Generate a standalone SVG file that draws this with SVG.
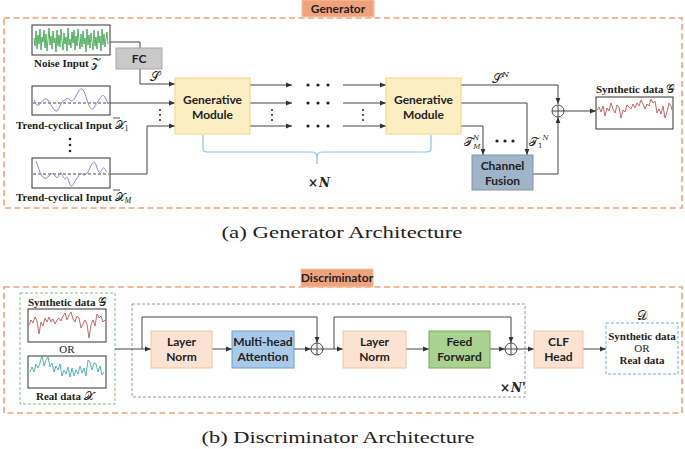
<svg xmlns="http://www.w3.org/2000/svg" width="685" height="449" viewBox="0 0 685 449">
<defs>
<marker id="ah" viewBox="0 0 10 10" refX="10" refY="5" markerWidth="6" markerHeight="6" orient="auto" markerUnits="userSpaceOnUse"><path d="M0,1 L10,5 L0,9 z" fill="#333"/></marker>
<style>
.outer{fill:none;stroke:#f2a27a;stroke-width:1.6;stroke-dasharray:6 3.5}
.tag{fill:#efa27c;stroke:#f6c4a6;stroke-width:1}
.tagt{font-family:Lato,"Open Sans",sans-serif;font-weight:bold;font-size:12px;fill:#222;text-anchor:middle}
.bx{font-family:Lato,"Open Sans",sans-serif;font-weight:bold;font-size:12px;fill:#222;text-anchor:middle}
.ser{font-family:"Liberation Serif","DejaVu Serif",serif;font-weight:bold;font-size:11px;fill:#222}
.math{font-family:"DejaVu Serif","DejaVu Sans",serif;font-weight:normal;font-style:normal}
.cap{font-family:"Liberation Serif","DejaVu Serif",serif;font-size:17px;fill:#222;text-anchor:middle}
.ln{fill:none;stroke:#444;stroke-width:1}
.arr{fill:none;stroke:#444;stroke-width:1;marker-end:url(#ah)}
.wave{fill:#fff;stroke:#333;stroke-width:1}
.gen{fill:#fbeec2;stroke:#f6d47c;stroke-width:1}
.dot{fill:#222}
.plus{fill:#fff;stroke:#444;stroke-width:1}
.peach{fill:#fbe2d2;stroke:#f4c3a2;stroke-width:1}
</style>
</defs>

<!-- ===== Generator ===== -->
<rect class="outer" x="4" y="18" width="678" height="190"/>
<g id="generator-label"><rect class="tag" x="302" y="0" width="72" height="17"/><text class="tagt" x="338" y="13">Generator</text></g>

<g id="noise-input">
<rect class="wave" x="32" y="25" width="78" height="30"/>
<polyline fill="none" stroke="#2e9e40" stroke-width="0.8" points="34,38 35,46 36,31 37,49 38,35 39,44 40,29 41,50 42,37 43,42 44,30 45,48 46,34 47,51 48,40 49,28 50,45 51,36 52,49 53,31 54,43 55,38 56,52 57,30 58,46 59,35 60,47 61,29 62,41 63,50 64,33 65,44 66,37 67,51 68,28 69,45 70,39 71,48 72,32 73,43 74,30 75,50 76,36 77,46 78,29 79,41 80,49 81,34 82,47 83,31 84,44 85,38 86,52 87,29 88,45 89,35 90,48 91,33 92,42 93,50 94,30 95,46 96,37 97,49 98,31 99,43 100,36 101,51 102,29 103,45 104,34 105,47 106,39 107,32 108,44"/>
<text class="ser" x="34" y="67">Noise Input <tspan class="math" font-size="12">𝒵</tspan></text>
</g>

<g id="trend-input-1">
<rect class="wave" x="32" y="86" width="78" height="29"/>
<line x1="33" y1="103" x2="109" y2="103" stroke="#333" stroke-width="0.9" stroke-dasharray="3 2"/>
<path fill="none" stroke="#8a80d8" stroke-width="1" d="M34,100 C36,104 37,107 40,104 C43,100 45,97 48,100 C51,104 53,110 56,111 C59,112 60,103 63,101 C66,99 68,97 70,100 C72,103 74,99 76,96 C78,92 80,88 82,89 C85,91 86,98 88,103 C90,108 92,111 94,108 C96,104 97,103 99,100 C101,96 103,94 105,97 C107,100 107,103 108,104"/>
<text class="ser" x="16" y="129">Trend-cyclical Input <tspan class="math" font-size="12">𝒳</tspan><tspan font-size="8" font-weight="normal" dy="2">1</tspan></text>
<line x1="113" y1="118" x2="120" y2="118" stroke="#222" stroke-width="0.8"/>
</g>

<g id="vdots-left"><circle class="dot" cx="70" cy="139" r="1.3"/><circle class="dot" cx="70" cy="145" r="1.3"/><circle class="dot" cx="70" cy="151" r="1.3"/></g>

<g id="trend-input-M">
<rect class="wave" x="32" y="158" width="78" height="30"/>
<line x1="33" y1="174" x2="109" y2="174" stroke="#333" stroke-width="0.9" stroke-dasharray="3 2"/>
<path fill="none" stroke="#8a80d8" stroke-width="1" d="M36,161 C38,165 39,172 42,176 C45,180 47,178 50,175 C52,172 54,174 56,177 C58,180 59,172 61,173 C63,175 64,181 66,178 C68,175 69,184 71,186 C73,187 75,180 77,178 C79,176 80,172 82,174 C84,176 86,175 88,172 C90,168 92,162 94,162 C96,162 97,170 99,172 C101,174 102,167 104,168 C106,169 106,172 107,171"/>
<text class="ser" x="16" y="201">Trend-cyclical Input <tspan class="math" font-size="12">𝒳</tspan><tspan font-size="8" font-weight="normal" font-style="italic" dy="2">M</tspan></text>
<line x1="113" y1="190" x2="120" y2="190" stroke="#222" stroke-width="0.8"/>
</g>

<g id="connectors-gen">
<polyline class="arr" points="110,42 140,42 140,84 175,84"/>
<line class="arr" x1="110" y1="103" x2="175" y2="103"/>
<polyline class="arr" points="110,174 147,174 147,126 175,126"/>
<line class="arr" x1="250" y1="85" x2="292" y2="85"/>
<line class="arr" x1="250" y1="103" x2="292" y2="103"/>
<line class="arr" x1="250" y1="126" x2="292" y2="126"/>
<line class="arr" x1="343" y1="85" x2="386" y2="85"/>
<line class="arr" x1="343" y1="103" x2="386" y2="103"/>
<line class="arr" x1="343" y1="126" x2="386" y2="126"/>
<polyline class="arr" points="461,85 558,85 558,104"/>
<polyline class="arr" points="461,103 527,103 527,155"/>
<polyline class="arr" points="461,126 483,126 483,155"/>
<polyline class="arr" points="533,174 558,174 558,117"/>
<line class="arr" x1="564" y1="111" x2="596" y2="111"/>
<path fill="none" stroke="#8fc0e4" stroke-width="1.2" d="M203,135 L203,148 Q203,152 207,152 L312,152 Q317,152 317,158 L317,164 L317,158 Q317,152 322,152 L427,152 Q431,152 431,148 L431,135"/>
</g>

<g id="fc"><rect x="116" y="48" width="46" height="21" fill="#c9c9c9" stroke="#a8a8a8" stroke-width="1"/><text class="bx" x="139" y="63">FC</text></g>
<text class="math" x="150" y="81" font-size="13" fill="#222">𝒮</text>

<g id="gen-module-1"><rect class="gen" x="175" y="78" width="75" height="56"/><text class="bx" x="212.5" y="104">Generative</text><text class="bx" x="212.5" y="119">Module</text></g>
<g id="gen-module-2"><rect class="gen" x="386" y="78" width="75" height="56"/><text class="bx" x="423.5" y="104">Generative</text><text class="bx" x="423.5" y="119">Module</text></g>

<g id="hdots">
<circle class="dot" cx="308" cy="85" r="1.6"/><circle class="dot" cx="318" cy="85" r="1.6"/><circle class="dot" cx="328" cy="85" r="1.6"/>
<circle class="dot" cx="308" cy="103" r="1.6"/><circle class="dot" cx="318" cy="103" r="1.6"/><circle class="dot" cx="328" cy="103" r="1.6"/>
<circle class="dot" cx="308" cy="126" r="1.6"/><circle class="dot" cx="318" cy="126" r="1.6"/><circle class="dot" cx="328" cy="126" r="1.6"/>
<circle class="dot" cx="160" cy="110" r="1"/><circle class="dot" cx="160" cy="115" r="1"/><circle class="dot" cx="160" cy="120" r="1"/>
<circle class="dot" cx="272" cy="110" r="1"/><circle class="dot" cx="272" cy="115" r="1"/><circle class="dot" cx="272" cy="120" r="1"/>
<circle class="dot" cx="363" cy="110" r="1"/><circle class="dot" cx="363" cy="115" r="1"/><circle class="dot" cx="363" cy="120" r="1"/>
<circle class="dot" cx="497" cy="141" r="1.6"/><circle class="dot" cx="505" cy="141" r="1.6"/><circle class="dot" cx="513" cy="141" r="1.6"/>
</g>
<text x="308" y="187" font-family="'DejaVu Serif',serif" font-size="12" font-weight="bold" font-style="italic" fill="#222">×<tspan dx="1">N</tspan></text>

<text class="math" x="492" y="83" font-size="13" fill="#222">𝒮<tspan font-size="8" font-style="italic" dy="-6">N</tspan></text>
<text class="math" x="464" y="146" font-size="12" fill="#222">𝒯<tspan font-size="7" font-style="italic" dy="-6">N</tspan><tspan font-size="7" font-style="italic" dx="-6" dy="9">M</tspan></text>
<text class="math" x="529" y="146" font-size="12" fill="#222">𝒯<tspan font-size="7" dy="2">1</tspan><tspan font-size="7" font-style="italic" dy="-8">N</tspan></text>

<g id="channel-fusion"><rect x="472" y="155" width="61" height="35" fill="#9fb3c9" stroke="#8096ae" stroke-width="1"/><text class="bx" x="502.5" y="170">Channel</text><text class="bx" x="502.5" y="185">Fusion</text></g>

<g id="plus-gen"><circle class="plus" cx="558" cy="111" r="6"/><path d="M552,111 H564 M558,105 V117" stroke="#444" stroke-width="1"/></g>

<g id="synthetic-out">
<text class="ser" x="596" y="93">Synthetic data <tspan class="math" font-size="12">𝒢</tspan></text>
<rect class="wave" x="596" y="97" width="77" height="32"/>
<polyline fill="none" stroke="#c0565a" stroke-width="0.9" points="597,110 599,107 601,112 603,106 605,116 607,108 609,111 611,103 613,109 615,113 617,105 619,107 621,118 623,110 625,112 627,105 629,107 631,109 633,104 635,108 637,103 639,106 641,100 643,104 645,109 647,104 649,106 651,99 653,103 655,101 657,113 659,109 661,114 663,106 665,118 667,112 669,103 671,106 672,110"/>
</g>

<text class="cap" x="342" y="238" textLength="241" lengthAdjust="spacingAndGlyphs">(a) Generator Architecture</text>

<!-- ===== Discriminator ===== -->
<rect class="outer" x="4" y="287" width="678" height="126"/>
<g id="discriminator-label"><rect class="tag" x="301" y="269" width="72" height="18"/><text class="tagt" x="337" y="282">Discriminator</text></g>

<g id="input-data">
<rect x="20" y="293" width="95" height="111" fill="none" stroke="#80c27e" stroke-width="1" stroke-dasharray="3 2"/>
<text class="ser" x="28" y="306">Synthetic data <tspan class="math" font-size="12">𝒢</tspan></text>
<rect class="wave" x="28" y="309" width="78" height="33"/>
<polyline fill="none" stroke="#c0565a" stroke-width="0.9" points="29,325 31,320 33,323 35,317 37,321 39,334 41,322 43,326 45,318 47,322 49,317 51,322 53,319 55,324 57,320 59,318 61,321 63,316 65,313 67,320 69,315 71,312 73,319 75,322 77,316 79,318 81,328 83,324 85,320 87,324 89,338 91,325 93,320 95,326 97,314 99,318 101,316 103,322 105,320"/>
<text x="67" y="353" font-family="'Liberation Serif',serif" font-size="11" fill="#222" text-anchor="middle">OR</text>
<rect class="wave" x="28" y="356" width="78" height="32"/>
<polyline fill="none" stroke="#3fb0ad" stroke-width="0.9" points="30,372 32,367 34,372 36,364 38,368 40,363 42,355 44,366 46,360 48,357 50,367 52,363 54,372 56,366 58,370 60,364 62,376 64,370 66,374 68,367 70,377 72,368 74,376 76,370 78,374 80,366 82,373 84,368 86,376 88,360 90,362 92,370 94,363 96,364 98,372 100,366 102,375 104,372"/>
<text class="ser" x="36" y="400">Real data <tspan class="math" font-size="12">𝒳</tspan></text>
</g>

<rect x="132" y="304" width="393" height="93" fill="none" stroke="#9a9a9a" stroke-width="1" stroke-dasharray="3 2"/>

<g id="connectors-disc">
<line class="arr" x1="115" y1="349" x2="151" y2="349"/>
<polyline class="arr" points="142,349 142,317 317,317 317,343"/>
<line class="arr" x1="212" y1="349" x2="232" y2="349"/>
<line class="arr" x1="294" y1="349" x2="311" y2="349"/>
<line class="arr" x1="323" y1="349" x2="343" y2="349"/>
<polyline class="arr" points="334,349 334,317 511,317 511,343"/>
<line class="arr" x1="406" y1="349" x2="429" y2="349"/>
<line class="arr" x1="490" y1="349" x2="505" y2="349"/>
<line class="arr" x1="517" y1="349" x2="534" y2="349"/>
<line class="arr" x1="583" y1="349" x2="606" y2="349"/>
</g>

<g id="layer-norm-1"><rect class="peach" x="151" y="331" width="61" height="37"/><text class="bx" x="181.5" y="346">Layer</text><text class="bx" x="181.5" y="361">Norm</text></g>
<g id="multi-head-attention"><rect x="232" y="331" width="62" height="37" fill="#a9c9e9" stroke="#6b9fd0" stroke-width="1"/><text class="bx" x="263" y="346">Multi-head</text><text class="bx" x="263" y="361">Attention</text></g>
<g id="plus-d1"><circle class="plus" cx="317" cy="349" r="6"/><path d="M311,349 H323 M317,343 V355" stroke="#444" stroke-width="1"/></g>
<g id="layer-norm-2"><rect class="peach" x="343" y="331" width="63" height="37"/><text class="bx" x="374.5" y="346">Layer</text><text class="bx" x="374.5" y="361">Norm</text></g>
<g id="feed-forward"><rect x="429" y="331" width="61" height="37" fill="#a9d18f" stroke="#7aab5c" stroke-width="1"/><text class="bx" x="459.5" y="346">Feed</text><text class="bx" x="459.5" y="361">Forward</text></g>
<g id="plus-d2"><circle class="plus" cx="511" cy="349" r="6"/><path d="M505,349 H517 M511,343 V355" stroke="#444" stroke-width="1"/></g>
<text x="500" y="392" font-family="'DejaVu Serif',serif" font-size="12" font-weight="bold" font-style="italic" fill="#222">×<tspan dx="1">N'</tspan></text>
<g id="clf-head"><rect class="peach" x="534" y="331" width="49" height="37"/><text class="bx" x="558.5" y="346">CLF</text><text class="bx" x="558.5" y="361">Head</text></g>

<g id="output-d">
<text class="math" x="642" y="320" font-size="13" fill="#222" text-anchor="middle">𝒟</text>
<rect x="606" y="323" width="72" height="51" fill="none" stroke="#6fb0e0" stroke-width="1" stroke-dasharray="3 2"/>
<text class="ser" x="642" y="340" text-anchor="middle">Synthetic data</text>
<text x="642" y="352" font-family="'Liberation Serif',serif" font-size="11" fill="#222" text-anchor="middle">OR</text>
<text class="ser" x="642" y="364" text-anchor="middle">Real data</text>
</g>

<text class="cap" x="338" y="443" textLength="273" lengthAdjust="spacingAndGlyphs">(b) Discriminator Architecture</text>
</svg>
